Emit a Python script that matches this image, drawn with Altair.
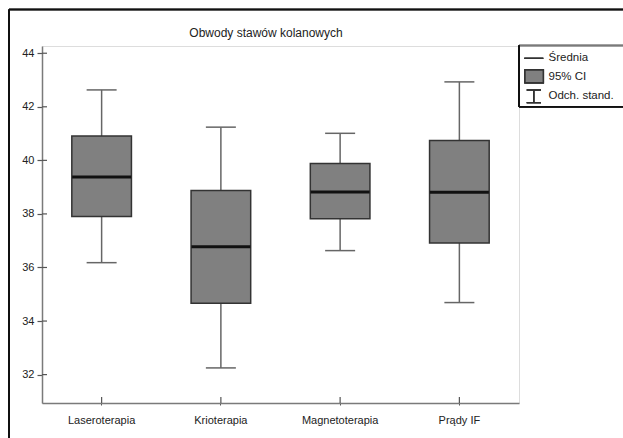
import altair as alt
import pandas as pd

# ---- data ----
categories = ["Laseroterapia", "Krioterapia", "Magnetoterapia", "Prądy IF"]
means = [39.38, 36.77, 38.82, 38.81]
ci_low = [37.90, 34.66, 37.82, 36.91]
ci_high = [40.91, 38.87, 39.88, 40.74]
sd_low = [36.18, 32.25, 36.63, 34.69]
sd_high = [42.63, 41.24, 41.01, 42.93]
y_ticks = [32, 34, 36, 38, 40, 42, 44]
title_text = "Obwody stawów kolanowych"
legend_labels = ["Średnia", "95% CI", "Odch. stand."]

df = pd.DataFrame({
    "cat": categories, "mean": means, "ci_lo": ci_low, "ci_hi": ci_high,
    "sd_lo": sd_low, "sd_hi": sd_high,
})
ticks_df = pd.DataFrame({"v": y_ticks})

W, H = 477, 357
FONT = "Liberation Sans"
GREY = "#7a7a7a"

xenc = alt.X("cat:N", sort=categories,
             scale=alt.Scale(paddingInner=0, paddingOuter=0),
             axis=alt.Axis(title=None, labelAngle=0, tickSize=2, labelPadding=9,
                           domainColor=GREY, tickColor="#555", domainWidth=1.5,
                           labelFont=FONT, labelFontSize=11, labelColor="#222"))
yscale = alt.Scale(domain=[30.94, 44.27], nice=False, zero=False)
yaxis = alt.Axis(title=None, values=y_ticks, tickSize=5, labelPadding=3, grid=False,
                 domainColor=GREY, tickColor="#555", domainWidth=1.5, tickWidth=1.2,
                 labelFont=FONT, labelFontSize=11, labelColor="#222")

base = alt.Chart(df)

whisker = base.mark_rule(color="#666", strokeWidth=1.5).encode(
    x=xenc, y=alt.Y("sd_lo:Q", scale=yscale, axis=yaxis), y2="sd_hi:Q")
cap_lo = base.mark_tick(color="#666", size=30, thickness=1.5, opacity=1).encode(
    x=xenc, y=alt.Y("sd_lo:Q", scale=yscale))
cap_hi = base.mark_tick(color="#666", size=30, thickness=1.5, opacity=1).encode(
    x=xenc, y=alt.Y("sd_hi:Q", scale=yscale))
box = base.mark_bar(width=alt.RelativeBandSize(0.5), color="#808080",
                    stroke="#333", strokeWidth=1.5, opacity=1).encode(
    x=xenc, y=alt.Y("ci_lo:Q", scale=yscale), y2="ci_hi:Q")
mean = base.mark_tick(color="#111", size=59, thickness=3, opacity=1).encode(
    x=xenc, y=alt.Y("mean:Q", scale=yscale))

# inward tick marks (the reference ticks cross the axis lines)
ytick_in = alt.Chart(ticks_df).mark_rule(color="#555", strokeWidth=1.2).encode(
    y=alt.Y("v:Q", scale=yscale), x=alt.value(0), x2=alt.value(5))
xtick_in = base.mark_rule(color="#555", strokeWidth=1.2).encode(
    x=xenc, y=alt.value(H), y2=alt.value(H - 6))

# title as a text mark above the plot
title = alt.Chart(pd.DataFrame({"t": [title_text]})).mark_text(
    align="center", baseline="middle", font=FONT, fontSize=12, color="#222").encode(
    text="t:N", x=alt.value(224), y=alt.value(-13))

# outer frame and legend box (decoration)
frame_left = base.mark_rule(color="#111", strokeWidth=1.5).encode(
    x=alt.value(-33), y=alt.value(-36.5), y2=alt.value(H + 60))
frame_top = base.mark_rule(color="#111", strokeWidth=1.5).encode(
    x=alt.value(-33), x2=alt.value(W + 200), y=alt.value(-36.5))
leg_top = base.mark_rule(color=GREY, strokeWidth=1.5).encode(
    x=alt.value(W), x2=alt.value(W + 200), y=alt.value(-0.5))
leg_left = base.mark_rule(color="#111", strokeWidth=1.8).encode(
    x=alt.value(W), y=alt.value(-0.5), y2=alt.value(60.7))
leg_bottom = base.mark_rule(color="#111", strokeWidth=1.5).encode(
    x=alt.value(W), x2=alt.value(W + 200), y=alt.value(60.7))
leg_line = base.mark_rule(color="#333", strokeWidth=1.2).encode(
    x=alt.value(482.3), x2=alt.value(501.3), y=alt.value(12.3))
leg_sq = base.mark_rect(color="#808080", stroke="#333", strokeWidth=1.5).encode(
    x=alt.value(483), x2=alt.value(501.3), y=alt.value(24), y2=alt.value(36.7))
leg_i = base.mark_rule(color="#333", strokeWidth=1.2).encode(
    x=alt.value(491.8), y=alt.value(44), y2=alt.value(56.7))
leg_i_top = base.mark_rule(color="#333", strokeWidth=1.2).encode(
    x=alt.value(484.7), x2=alt.value(499), y=alt.value(44))
leg_i_bot = base.mark_rule(color="#333", strokeWidth=1.2).encode(
    x=alt.value(484.7), x2=alt.value(499), y=alt.value(56.7))
leg_texts = [
    alt.Chart(pd.DataFrame({"t": [lab]})).mark_text(
        align="left", baseline="middle", font=FONT, fontSize=11.5, color="#222").encode(
        text="t:N", x=alt.value(506.5), y=alt.value(yy))
    for lab, yy in zip(legend_labels, [12.3, 30.5, 50.3])
]

chart = alt.layer(
    whisker, cap_lo, cap_hi, box, mean, ytick_in, xtick_in, title,
    frame_left, frame_top, leg_top, leg_left, leg_bottom,
    leg_line, leg_sq, leg_i, leg_i_top, leg_i_bot, *leg_texts,
).properties(
    width=W, height=H,
    autosize=alt.AutoSizeParams(type="none"),
    padding={"left": 42, "top": 46, "right": 623 - 42 - W, "bottom": 438 - 46 - H},
).configure_view(stroke=GREY, strokeWidth=1.5).configure(background="white")

chart.save("out.html", embed_options={"renderer": "svg", "actions": False})
